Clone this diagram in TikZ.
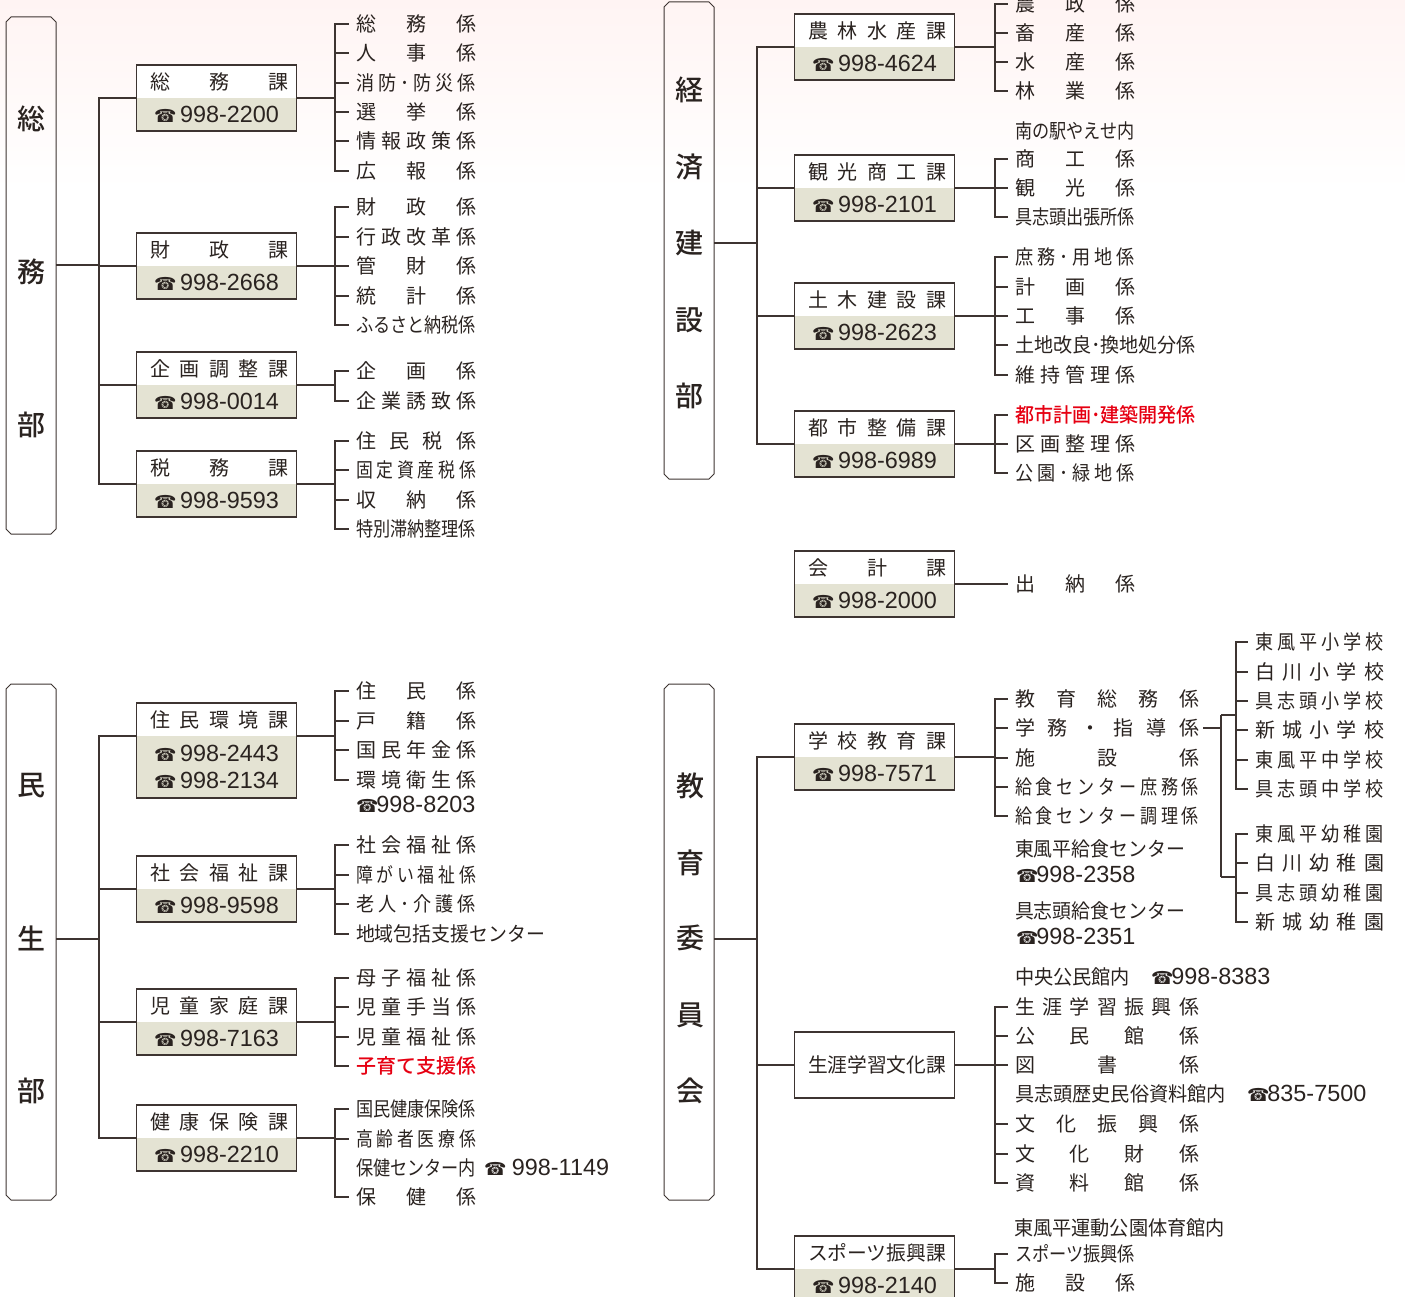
\documentclass[tikz,border=0pt]{standalone}
\usepackage{fontspec}
\usetikzlibrary{positioning}
\setmainfont{Noto Sans CJK JP}
\newfontfamily\numfont{Liberation Sans}
\newfontfamily\telfont{DejaVu Sans}
\newfontfamily\medfont{Noto Sans CJK JP Medium}

\definecolor{linecol}{HTML}{3D3431}
\definecolor{textcol}{HTML}{2A2320}
\definecolor{telbg}{HTML}{E4E3D3}
\definecolor{akacol}{HTML}{E60012}
\definecolor{topcol}{HTML}{FFF4F3}

\newsavebox\jtbox
\newcommand{\jt}[2]{\sbox\jtbox{#2}\ifdim\wd\jtbox>#1\relax\resizebox{#1}{\height}{\usebox\jtbox}\else\makebox[#1][s]{\spaceskip=0pt plus 1fil\relax #2}\fi}
\newcommand{\nb}[1]{\makebox[0pt][l]{#1}}
\newcommand{\tel}[2][-2pt]{{\fontsize{18}{25}\selectfont\telfont ☎}\hspace{#1}{\numfont\fontsize{23.4}{27}\selectfont #2}}
\newcommand{\aka}[1]{\textcolor{akacol}{\medfont #1}}

\tikzset{
    line/.style={draw=linecol, line width=1.2pt},
    bubox/.style={rectangle, minimum width=50pt, inner sep=0pt, outer sep=0pt},
    buline/.style={draw=linecol, line width=1pt},
    butitle/.style={font=\fontsize{28}{32}\selectfont\medfont, text=textcol, inner sep=0pt},
    kahead/.style={anchor=north, fill=white, minimum width=160pt, minimum height=33pt, inner sep=0pt, outer sep=0pt, text=textcol, font=\fontsize{20}{24}\selectfont},
    katel/.style={fill=telbg, minimum width=160pt, inner sep=0pt, outer sep=0pt, text=textcol, align=center},
    kaframe/.style={draw=linecol, line width=1.3pt},
    kasolo/.style={draw=linecol, line width=1.3pt, fill=white, minimum width=160pt, minimum height=66pt, inner sep=0pt, outer sep=0pt, text=textcol, font=\fontsize{20}{24}\selectfont},
    kakari/.style={anchor=west, inner xsep=7pt, inner ysep=0pt, outer sep=0pt, text=textcol, font=\fontsize{20}{24}\selectfont},
    chuki/.style={anchor=west, inner sep=0pt, outer sep=0pt, text=textcol, font=\fontsize{20}{24}\selectfont},
}

\newcommand{\bufr}[1]{%
    \draw[buline] ([xshift=5pt]#1.north west) -- ([xshift=-5pt]#1.north east) -- ([yshift=-5pt]#1.north east)
        -- ([yshift=5pt]#1.south east) -- ([xshift=-5pt]#1.south east) -- ([xshift=5pt]#1.south west)
        -- ([yshift=5pt]#1.south west) -- ([yshift=-5pt]#1.north west) -- cycle;
}
\newcommand{\kabox}[6][33pt]{%
    \node[kahead] (#2) at (#3,#4) {\hspace*{5pt}\raisebox{-1pt}{\jt{138pt}{#5}}};
    \node[katel, below=0pt of #2, minimum height=#1] (#2t) {#6};
    \draw[kaframe] (#2.north west) rectangle (#2t.south east);
}
\newcommand{\gakari}[6]{%
    \coordinate (#1x) at (#3,0);
    \coordinate (#1j) at (#2 -| #1x);
    \draw[line] (#2) -- (#1j);
    \foreach \y/\lab [count=\idx] in {#6} {
        \node[kakari] (#1\idx) at (#4,\y) {\jt{#5}{\lab}};
        \draw[line] (#1j) |- (#1\idx.west);
    }
}

\begin{document}
\begin{tikzpicture}[x=1pt, y=-1pt]
        \useasboundingbox (0,0) rectangle (1405,1297);
        \shade[top color=topcol, bottom color=white, draw=none] (0,0) rectangle (1405,190);

        \node[bubox, minimum height=517pt] (somubu) at (31,275.5) {};
        \bufr{somubu}
        \foreach \y/\lab [count=\idx] in {119/総,272/務,425/部}
            \node[butitle] (somubu\idx) at (31,\y) {\lab};
        \coordinate (somubuj) at (99,265);
        \draw[line] (somubu.east |- somubuj) -- (somubuj);

        \kabox{somu}{216.5}{65}{総 務 課}{\tel[3.5pt]{998-2200}}
        \kabox{zaisei}{216.5}{233}{財 政 課}{\tel[3.5pt]{998-2668}}
        \kabox{kikaku}{216.5}{352}{企 画 調 整 課}{\tel[3.5pt]{998-0014}}
        \kabox{zeimu}{216.5}{451}{税 務 課}{\tel[3.5pt]{998-9593}}
        \foreach \ka in {somu,zaisei,kikaku,zeimu}
            \draw[line] (somubuj) |- (\ka.south west);

        \gakari{somu-k}{somu.south east}{335}{349}{120pt}{24/総 務 係,53/人 事 係,83/消 防 ･ 防 災 係,112/選 挙 係,141/情 報 政 策 係,171/広 報 係}
        \gakari{zaisei-k}{zaisei.south east}{335}{349}{120pt}{207/財 政 係,237/行 政 改 革 係,266/管 財 係,296/統 計 係,325/ふるさと納税係}
        \gakari{kikaku-k}{kikaku.south east}{335}{349}{120pt}{371/企 画 係,401/企 業 誘 致 係}
        \gakari{zeimu-k}{zeimu.south east}{335}{349}{120pt}{441/住 民 税 係,470/固 定 資 産 税 係,500/収 納 係,529/特別滞納整理係}

        \node[bubox, minimum height=477pt] (keizaibu) at (689,240.5) {};
        \bufr{keizaibu}
        \foreach \y/\lab [count=\idx] in {90/経,167/済,243/建,320/設,396/部}
            \node[butitle] (keizaibu\idx) at (689,\y) {\lab};
        \coordinate (keizaibuj) at (757,243);
        \draw[line] (keizaibu.east |- keizaibuj) -- (keizaibuj);

        \kabox{norin}{874.5}{14}{農 林 水 産 課}{\tel[3.5pt]{998-4624}}
        \kabox{kanko}{874.5}{155}{観 光 商 工 課}{\tel[3.5pt]{998-2101}}
        \kabox{doboku}{874.5}{283}{土 木 建 設 課}{\tel[3.5pt]{998-2623}}
        \kabox{toshi}{874.5}{411}{都 市 整 備 課}{\tel[3.5pt]{998-6989}}
        \kabox{kaikei}{874.5}{551}{会 計 課}{\tel[3.5pt]{998-2000}}
        \foreach \ka in {norin,kanko,doboku,toshi}
            \draw[line] (keizaibuj) |- (\ka.south west);

        \gakari{norin-k}{norin.south east}{995}{1008}{120pt}{4/農 政 係,33/畜 産 係,62/水 産 係,91/林 業 係}
        \node[chuki] (kanko-n) at (1015,131) {\jt{120pt}{南の駅やえせ内}};
        \gakari{kanko-k}{kanko.south east}{995}{1008}{120pt}{159/商 工 係,188/観 光 係,217/具志頭出張所係}
        \gakari{doboku-k}{doboku.south east}{995}{1008}{120pt}{257/庶 務 ･ 用 地 係,287/計 画 係,316/工 事 係,345/\nb{\jt{181pt}{土地改良･換地処分係}},375/維 持 管 理 係}
        \gakari{toshi-k}{toshi.south east}{995}{1008}{120pt}{415/\nb{\aka{\jt{181pt}{都市計画･建築開発係}}},444/区 画 整 理 係,473/公 園 ･ 緑 地 係}
        \node[kakari] (kaikei-k) at (1008,584) {\jt{120pt}{出 納 係}};
        \draw[line] (kaikei.south east) -- (kaikei-k.west);

        \node[bubox, minimum height=516pt] (minseibu) at (31,942) {};
        \bufr{minseibu}
        \foreach \y/\lab [count=\idx] in {786/民,938/生,1091/部}
            \node[butitle] (minseibu\idx) at (31,\y) {\lab};
        \coordinate (minseibuj) at (99,939);
        \draw[line] (minseibu.east |- minseibuj) -- (minseibuj);

        \kabox[62pt]{jumin}{216.5}{703}{住 民 環 境 課}{\tel[3.5pt]{998-2443}\\[9.5pt]\tel[3.5pt]{998-2134}}
        \kabox{fukushi}{216.5}{856}{社 会 福 祉 課}{\tel[3.5pt]{998-9598}}
        \kabox{jido}{216.5}{989}{児 童 家 庭 課}{\tel[3.5pt]{998-7163}}
        \kabox{kenko}{216.5}{1105}{健 康 保 険 課}{\tel[3.5pt]{998-2210}}
        \foreach \ka in {jumin,fukushi,jido,kenko}
            \draw[line] (minseibuj) |- (\ka.south west);

        \gakari{jumin-k}{jumin.south east}{335}{349}{120pt}{691/住 民 係,721/戸 籍 係,750/国 民 年 金 係,780/環 境 衛 生 係}
        \node[chuki] (jumin-n) at (356,804) {\tel{998-8203}};
        \gakari{fukushi-k}{fukushi.south east}{335}{349}{120pt}{845/社 会 福 祉 係,875/障 が い 福 祉 係,904/老 人 ･ 介 護 係,934/\nb{\jt{189pt}{地域包括支援センター}}}
        \gakari{jido-k}{jido.south east}{335}{349}{120pt}{978/母 子 福 祉 係,1007/児 童 手 当 係,1037/児 童 福 祉 係,1066/\aka{子育て支援係}}
        \gakari{kenko-k}{kenko.south east}{335}{349}{120pt}{1109/国民健康保険係,1139/高 齢 者 医 療 係,1197/保 健 係}
        \node[chuki] (kenko-n) at (356,1168) {\jt{120pt}{保健センター内}\hspace{8pt}\tel[5.5pt]{998-1149}};

        \node[bubox, minimum height=516pt] (kyoikubu) at (689,942) {};
        \bufr{kyoikubu}
        \foreach \y/\lab [count=\idx] in {786/教,863/育,938/委,1015/員,1091/会}
            \node[butitle] (kyoikubu\idx) at (690,\y) {\lab};
        \coordinate (kyoikubuj) at (757,939);
        \draw[line] (kyoikubu.east |- kyoikubuj) -- (kyoikubuj);

        \kabox{gakko}{874.5}{724}{学 校 教 育 課}{\tel[3.5pt]{998-7571}}
        \node[kasolo] (shogai) at (874.5,1065) {\hspace*{5pt}\jt{138pt}{生涯学習文化課}};
        \kabox{sports}{874.5}{1236}{スポーツ振興課}{\tel[3.5pt]{998-2140}}
        \draw[line] (kyoikubuj) |- (gakko.south west);
        \draw[line] (kyoikubuj) |- (shogai.west);
        \draw[line] (kyoikubuj) |- (sports.south west);

        \gakari{gakko-k}{gakko.south east}{995}{1008}{184pt}{699/教 育 総 務 係,728/学 務 ・ 指 導 係,758/施 設 係,787/給 食 セ ン タ ー 庶 務 係,816/給 食 セ ン タ ー 調 理 係}
        \node[chuki] (kyushoku1) at (1015,849) {\jt{170pt}{東風平給食センター}};
        \node[chuki] (kyushoku1t) at (1016,874) {\tel{998-2358}};
        \node[chuki] (kyushoku2) at (1015,911) {\jt{170pt}{具志頭給食センター}};
        \node[chuki] (kyushoku2t) at (1016,936) {\tel{998-2351}};

        \coordinate (gakkoj) at (1221,728);
        \coordinate (shojo) at (1221,715);
        \coordinate (yochi) at (1221,877);
        \draw[line] ([xshift=-3pt]gakko-k2.east) -- (gakkoj);
        \draw[line] (shojo) -- (yochi);
        \gakari{sho}{shojo}{1236}{1248}{129pt}{642/東 風 平 小 学 校,672/白 川 小 学 校,701/具 志 頭 小 学 校,730/新 城 小 学 校,760/東 風 平 中 学 校,789/具 志 頭 中 学 校}
        \gakari{yo}{yochi}{1236}{1248}{129pt}{834/東 風 平 幼 稚 園,863/白 川 幼 稚 園,893/具 志 頭 幼 稚 園,922/新 城 幼 稚 園}

        \node[chuki] (shogai-n1) at (1015,977) {\jt{115pt}{中央公民館内}\hspace{21pt}\tel{998-8383}};
        \gakari{shogai-k}{shogai.east}{995}{1008}{184pt}{1007/生 涯 学 習 振 興 係,1036/公 民 館 係,1065/図 書 係,1124/文 化 振 興 係,1154/文 化 財 係,1183/資 料 館 係}
        \node[chuki] (shogai-n2) at (1015,1094) {\jt{211pt}{具志頭歴史民俗資料館内}\hspace{21pt}\tel{835-7500}};

        \node[chuki] (sports-n) at (1014,1228) {\jt{211pt}{東風平運動公園体育館内}};
        \gakari{sports-k}{sports.south east}{995}{1008}{120pt}{1254/スポーツ振興係,1283/施 設 係}
\end{tikzpicture}
\end{document}
